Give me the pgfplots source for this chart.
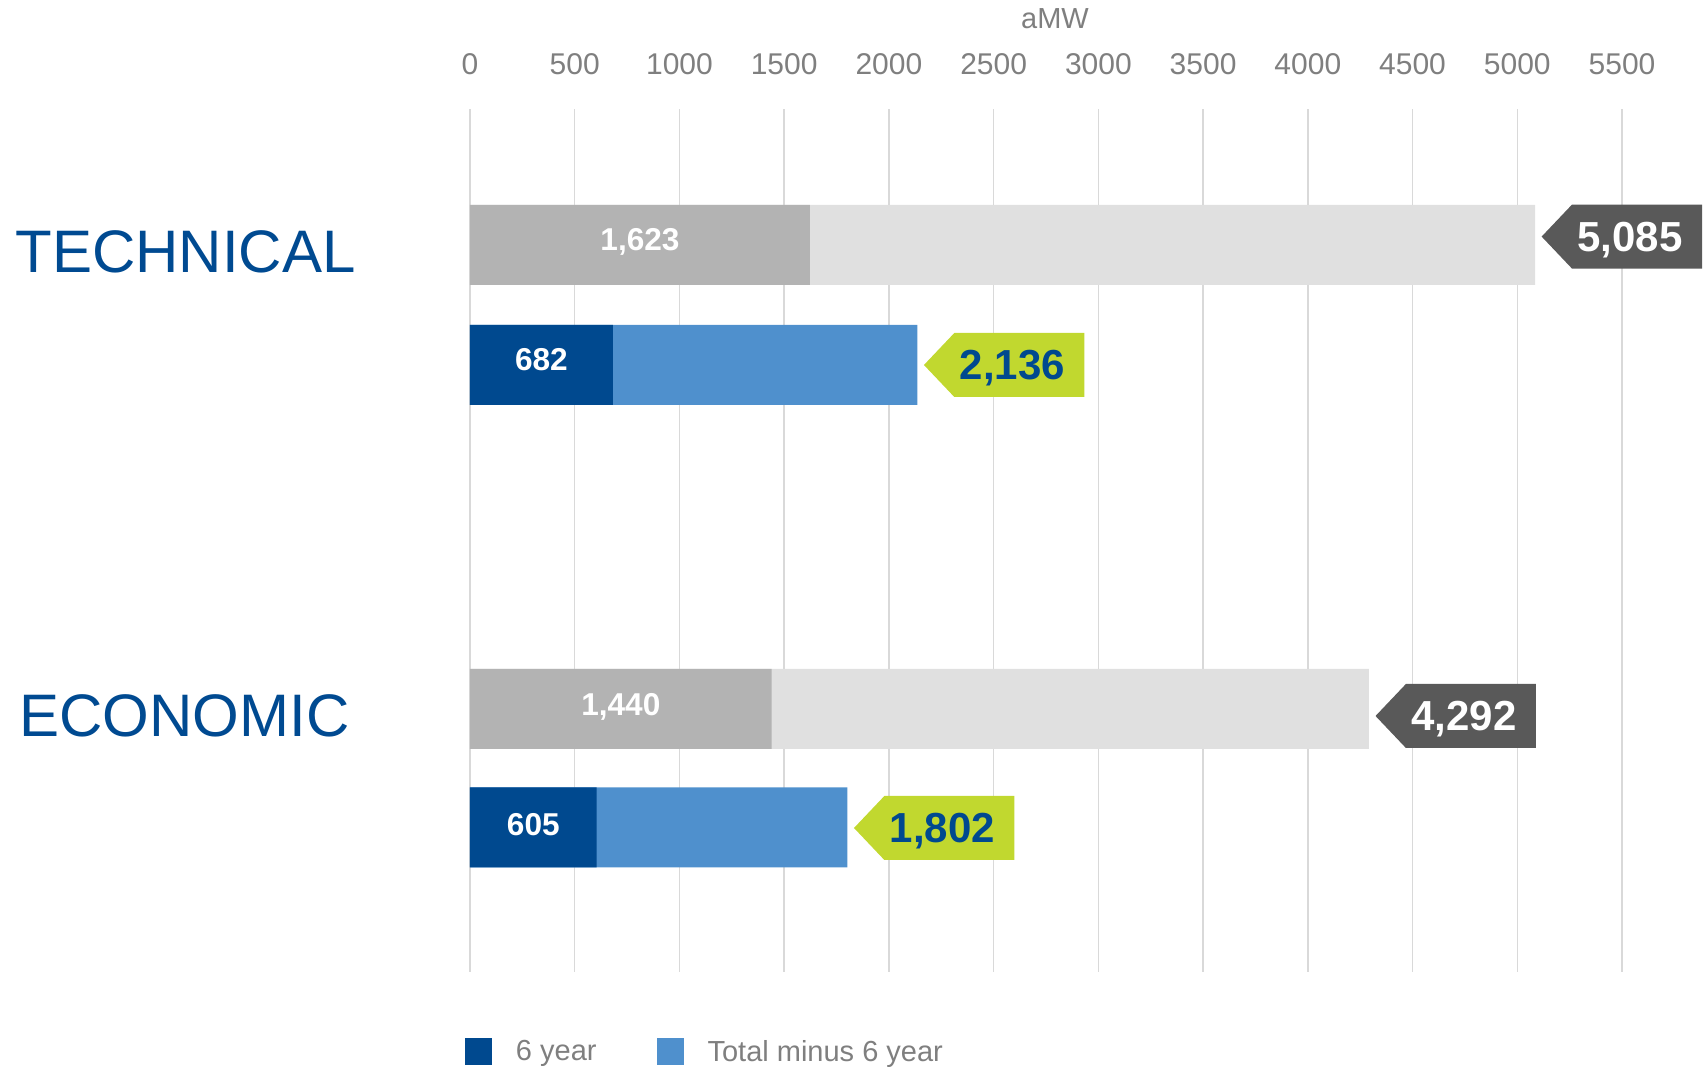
\documentclass[border=0pt]{standalone}
\usepackage{fontspec}
\setmainfont{Liberation Sans}
\usepackage{pgfplots}
\pgfplotsset{compat=1.18}
\usetikzlibrary{shapes.symbols}
\definecolor{lgray}{HTML}{E0E0E0}
\definecolor{dgray}{HTML}{B3B3B3}
\definecolor{dblue}{HTML}{00498F}
\definecolor{lblue}{HTML}{4F90CD}
\definecolor{tagdark}{HTML}{595959}
\definecolor{tggreen}{HTML}{C1D82F}
\definecolor{catc}{HTML}{004A91}
\definecolor{tickc}{HTML}{7F7F7F}
\definecolor{gridc}{HTML}{D9D9D9}
\pgfplotsset{/pgf/number format/assume math mode=true}
\tikzset{
  tag/.style 2 args={shape=signal, signal to=west, signal pointer angle=93,
    fill=#1, text=#2, minimum height=32pt, text width=65pt, align=center,
    inner xsep=0pt, inner ysep=0pt, anchor=west, xshift=3pt, text depth=0pt,
    font=\bfseries\fontsize{21}{25}\selectfont},
  inlab/.style={text=white, anchor=center, inner sep=0pt, text depth=0pt,
    font=\bfseries\fontsize{15.8}{19}\selectfont}
}
\begin{document}
\begin{tikzpicture}
\path[use as bounding box] (-235pt,-48pt) rectangle (618pt,486pt);
\begin{axis}[
  at={(0,0)}, anchor=south west,
  scale only axis, width=576pt, height=431.5pt,
  xmin=0, xmax=5500, ymin=-972, ymax=-109,
  axis line style={draw=none},
  major tick length=0pt,
  xtick={0,500,...,5500},
  scaled x ticks=false,
  xmajorgrids, grid style={color=gridc, line width=0.75pt},
  xticklabel pos=upper,
  xticklabel style={font=\fontsize{15}{18}\selectfont, text=tickc, anchor=base, yshift=17pt,
    /pgf/number format/1000 sep={}},
  ytick={-252,-716}, yticklabels={TECHNICAL,ECONOMIC\hspace*{3pt}},
  yticklabel style={font=\fontsize{30}{36}\selectfont, text=catc, anchor=east, inner sep=0pt, xshift=-57pt},
  xlabel={aMW},
  xlabel style={at={(axis description cs:0.5,1)}, anchor=center, yshift=45pt, xshift=4.5pt,
    font=\fontsize{14.5}{17}\selectfont, text=tickc},
  clip=false,
  legend style={draw=none, fill=none, inner sep=0pt, outer sep=0pt,
    at={(0,0)}, anchor=west, xshift=-2.5pt, yshift=-40pt,
    font=\fontsize{14.5}{17}\selectfont, text=tickc,
    legend columns=2,
    /tikz/every odd column/.append style={column sep=10pt},
    /tikz/every even column/.append style={column sep=28pt}},
  legend image code/.code={\fill[#1] (0pt,-6.75pt) rectangle (13.5pt,6.75pt);},
]
% total bars
\addplot[xbar, bar width=80, bar shift=0pt, fill=lgray, draw=none, forget plot]
  coordinates {(5085,-245) (4292,-709)};
\addplot[xbar, bar width=80, bar shift=0pt, fill=dgray, draw=none, forget plot]
  coordinates {(1623,-245) (1440,-709)};
\addplot[xbar, bar width=80, bar shift=0pt, fill=lblue, draw=none, forget plot]
  coordinates {(2136,-365) (1802,-827.5)};
\addplot[xbar, bar width=80, bar shift=0pt, fill=dblue, draw=none, forget plot]
  coordinates {(682,-365) (605,-827.5)};
% inner labels
\addplot[only marks, mark=none, forget plot, point meta=explicit, nodes near coords,
  every node near coord/.append style={inlab}]
  coordinates {(811.5,-239) [1623] (720,-704) [1440] (341,-359) [682] (302.5,-824) [605]};
% tags
\addplot[only marks, mark=none, forget plot, point meta=explicit,
  nodes near coords={\pgfmathprintnumber{\pgfplotspointmeta}\hspace*{7pt}},
  every node near coord/.append style={tag={tagdark}{white}}]
  coordinates {(5085,-236.6) [5085] (4292,-716) [4292]};
\addplot[only marks, mark=none, forget plot, point meta=explicit,
  nodes near coords={\pgfmathprintnumber{\pgfplotspointmeta}\hspace*{7pt}},
  every node near coord/.append style={tag={tggreen}{dblue}}]
  coordinates {(2136,-365) [2136] (1802,-828) [1802]};
\addlegendimage{fill=dblue, draw=none}
\addlegendentry{6 year}
\addlegendimage{fill=lblue, draw=none}
\addlegendentry{Total minus 6 year}
\end{axis}
\end{tikzpicture}
\end{document}
